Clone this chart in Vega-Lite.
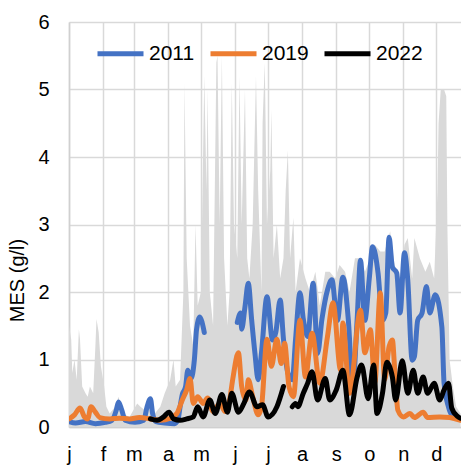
{
  "$schema": "https://vega.github.io/schema/vega-lite/v6.json",
  "width": 392,
  "height": 405,
  "autosize": {"type": "none"},
  "padding": {"left": 69, "top": 22, "right": 0, "bottom": 38},
  "config": {"view": {"stroke": null}, "font": "Liberation Sans"},
  "datasets": {
    "band": [
      {"day":1,"v":1.5},{"day":3,"v":1.3},{"day":4,"v":0.8},{"day":6,"v":1.0},{"day":8,"v":0.7},{"day":10,"v":1.45},{"day":11,"v":1.3},{"day":13,"v":0.6},{"day":16,"v":0.5},{"day":18,"v":0.45},{"day":20,"v":0.6},{"day":23,"v":0.5},{"day":25,"v":1.2},{"day":26,"v":1.6},{"day":28,"v":1.4},{"day":30,"v":0.9},{"day":33,"v":0.6},{"day":35,"v":0.3},{"day":38,"v":0.2},{"day":43,"v":0.3},{"day":46,"v":0.45},{"day":50,"v":0.2},{"day":56,"v":0.15},{"day":63,"v":0.35},{"day":66,"v":0.3},{"day":70,"v":0.25},{"day":75,"v":0.45},{"day":79,"v":0.2},{"day":84,"v":0.3},{"day":88,"v":0.5},{"day":93,"v":0.7},{"day":96,"v":1.0},{"day":98,"v":0.6},{"day":102,"v":0.7},{"day":105,"v":2.0},{"day":106,"v":5.1},{"day":108,"v":2.5},{"day":111,"v":1.5},{"day":114,"v":1.2},{"day":116,"v":3.0},{"day":118,"v":1.8},{"day":121,"v":2.0},{"day":124,"v":5.2},{"day":126,"v":3.5},{"day":127,"v":5.0},{"day":129,"v":2.0},{"day":132,"v":1.5},{"day":135,"v":5.4},{"day":136,"v":5.5},{"day":138,"v":3.0},{"day":140,"v":5.5},{"day":142,"v":2.5},{"day":145,"v":1.5},{"day":147,"v":2.0},{"day":149,"v":5.1},{"day":151,"v":3.0},{"day":154,"v":2.5},{"day":156,"v":5.2},{"day":158,"v":3.0},{"day":161,"v":5.0},{"day":163,"v":2.5},{"day":165,"v":2.2},{"day":168,"v":3.0},{"day":171,"v":5.2},{"day":173,"v":3.5},{"day":176,"v":2.0},{"day":177,"v":4.5},{"day":179,"v":5.4},{"day":181,"v":3.0},{"day":184,"v":3.8},{"day":185,"v":4.7},{"day":187,"v":2.5},{"day":190,"v":3.0},{"day":193,"v":2.2},{"day":196,"v":2.5},{"day":198,"v":3.5},{"day":200,"v":4.1},{"day":202,"v":2.5},{"day":205,"v":3.1},{"day":207,"v":2.0},{"day":211,"v":2.5},{"day":216,"v":2.2},{"day":220,"v":2.0},{"day":225,"v":2.3},{"day":229,"v":1.8},{"day":234,"v":2.3},{"day":238,"v":2.3},{"day":243,"v":2.2},{"day":247,"v":2.4},{"day":252,"v":2.3},{"day":256,"v":2.0},{"day":261,"v":2.5},{"day":266,"v":2.5},{"day":270,"v":2.3},{"day":275,"v":2.5},{"day":279,"v":2.7},{"day":284,"v":2.6},{"day":288,"v":2.6},{"day":293,"v":2.9},{"day":297,"v":2.4},{"day":302,"v":2.2},{"day":306,"v":2.7},{"day":309,"v":2.8},{"day":313,"v":2.2},{"day":315,"v":2.8},{"day":320,"v":2.5},{"day":325,"v":2.3},{"day":329,"v":2.45},{"day":333,"v":2.2},{"day":336,"v":3.5},{"day":337,"v":4.5},{"day":339,"v":5.0},{"day":342,"v":5.0},{"day":344,"v":4.9},{"day":345,"v":3.0},{"day":347,"v":1.0},{"day":350,"v":0.6},{"day":353,"v":0.3},{"day":357,"v":0.2}
    ],
    "series": [
      {"year":"2011","day":1,"v":0.08},{"year":"2011","day":7,"v":0.06},{"year":"2011","day":16,"v":0.08},{"year":"2011","day":25,"v":0.05},{"year":"2011","day":34,"v":0.07},{"year":"2011","day":40,"v":0.1},{"year":"2011","day":44,"v":0.25},{"year":"2011","day":46,"v":0.37},{"year":"2011","day":49,"v":0.25},{"year":"2011","day":52,"v":0.1},{"year":"2011","day":61,"v":0.07},{"year":"2011","day":69,"v":0.1},{"year":"2011","day":72,"v":0.3},{"year":"2011","day":75,"v":0.42},{"year":"2011","day":77,"v":0.2},{"year":"2011","day":80,"v":0.08},{"year":"2011","day":88,"v":0.06},{"year":"2011","day":97,"v":0.05},{"year":"2011","day":100,"v":0.1},{"year":"2011","day":102,"v":0.3},{"year":"2011","day":104,"v":0.48},{"year":"2011","day":107,"v":0.6},{"year":"2011","day":109,"v":0.84},{"year":"2011","day":112,"v":0.72},{"year":"2011","day":115,"v":1.0},{"year":"2011","day":117,"v":1.45},{"year":"2011","day":120,"v":1.63},{"year":"2011","day":122,"v":1.55},{"year":"2011","day":124,"v":1.4},{"year":"2011","day":139,"v":null},{"year":"2011","day":154,"v":1.55},{"year":"2011","day":157,"v":1.69},{"year":"2011","day":158,"v":1.45},{"year":"2011","day":161,"v":1.78},{"year":"2011","day":164,"v":2.13},{"year":"2011","day":167,"v":1.6},{"year":"2011","day":170,"v":1.1},{"year":"2011","day":173,"v":0.7},{"year":"2011","day":176,"v":1.1},{"year":"2011","day":181,"v":1.93},{"year":"2011","day":186,"v":1.29},{"year":"2011","day":189,"v":1.4},{"year":"2011","day":193,"v":1.88},{"year":"2011","day":196,"v":1.3},{"year":"2011","day":200,"v":0.8},{"year":"2011","day":204,"v":0.7},{"year":"2011","day":207,"v":1.3},{"year":"2011","day":211,"v":1.99},{"year":"2011","day":214,"v":1.6},{"year":"2011","day":218,"v":1.34},{"year":"2011","day":223,"v":2.13},{"year":"2011","day":227,"v":1.09},{"year":"2011","day":231,"v":1.6},{"year":"2011","day":236,"v":2.03},{"year":"2011","day":240,"v":2.18},{"year":"2011","day":245,"v":1.58},{"year":"2011","day":250,"v":2.22},{"year":"2011","day":255,"v":1.58},{"year":"2011","day":259,"v":0.6},{"year":"2011","day":263,"v":1.6},{"year":"2011","day":266,"v":2.47},{"year":"2011","day":270,"v":1.58},{"year":"2011","day":274,"v":2.2},{"year":"2011","day":277,"v":2.67},{"year":"2011","day":282,"v":2.28},{"year":"2011","day":286,"v":1.58},{"year":"2011","day":289,"v":1.69},{"year":"2011","day":292,"v":2.81},{"year":"2011","day":295,"v":2.37},{"year":"2011","day":299,"v":2.28},{"year":"2011","day":302,"v":1.69},{"year":"2011","day":306,"v":2.58},{"year":"2011","day":309,"v":2.18},{"year":"2011","day":313,"v":0.99},{"year":"2011","day":315,"v":1.04},{"year":"2011","day":318,"v":1.58},{"year":"2011","day":322,"v":1.69},{"year":"2011","day":326,"v":2.08},{"year":"2011","day":329,"v":1.69},{"year":"2011","day":334,"v":1.96},{"year":"2011","day":340,"v":1.48},{"year":"2011","day":342,"v":0.65},{"year":"2011","day":346,"v":0.3},{"year":"2011","day":349,"v":0.18},{"year":"2011","day":354,"v":0.13},{"year":"2011","day":357,"v":0.12},
      {"year":"2019","day":1,"v":0.12},{"year":"2019","day":6,"v":0.18},{"year":"2019","day":11,"v":0.28},{"year":"2019","day":15,"v":0.15},{"year":"2019","day":18,"v":0.12},{"year":"2019","day":21,"v":0.3},{"year":"2019","day":25,"v":0.22},{"year":"2019","day":29,"v":0.14},{"year":"2019","day":38,"v":0.12},{"year":"2019","day":47,"v":0.13},{"year":"2019","day":56,"v":0.12},{"year":"2019","day":65,"v":0.14},{"year":"2019","day":75,"v":0.12},{"year":"2019","day":84,"v":0.1},{"year":"2019","day":93,"v":0.13},{"year":"2019","day":99,"v":0.2},{"year":"2019","day":104,"v":0.4},{"year":"2019","day":108,"v":0.55},{"year":"2019","day":111,"v":0.72},{"year":"2019","day":114,"v":0.35},{"year":"2019","day":118,"v":0.45},{"year":"2019","day":123,"v":0.35},{"year":"2019","day":127,"v":0.43},{"year":"2019","day":132,"v":0.23},{"year":"2019","day":138,"v":0.35},{"year":"2019","day":143,"v":0.23},{"year":"2019","day":147,"v":0.4},{"year":"2019","day":150,"v":0.72},{"year":"2019","day":155,"v":1.1},{"year":"2019","day":158,"v":0.6},{"year":"2019","day":162,"v":0.4},{"year":"2019","day":164,"v":0.7},{"year":"2019","day":168,"v":0.45},{"year":"2019","day":173,"v":0.18},{"year":"2019","day":176,"v":0.3},{"year":"2019","day":181,"v":1.3},{"year":"2019","day":185,"v":0.9},{"year":"2019","day":190,"v":1.3},{"year":"2019","day":194,"v":0.94},{"year":"2019","day":197,"v":1.24},{"year":"2019","day":201,"v":0.6},{"year":"2019","day":205,"v":0.45},{"year":"2019","day":211,"v":1.58},{"year":"2019","day":216,"v":0.74},{"year":"2019","day":222,"v":1.39},{"year":"2019","day":229,"v":0.65},{"year":"2019","day":236,"v":1.34},{"year":"2019","day":241,"v":1.84},{"year":"2019","day":248,"v":0.84},{"year":"2019","day":250,"v":1.54},{"year":"2019","day":256,"v":0.5},{"year":"2019","day":266,"v":1.73},{"year":"2019","day":270,"v":1.1},{"year":"2019","day":275,"v":1.44},{"year":"2019","day":279,"v":0.65},{"year":"2019","day":284,"v":1.99},{"year":"2019","day":288,"v":0.7},{"year":"2019","day":292,"v":1.19},{"year":"2019","day":295,"v":1.29},{"year":"2019","day":297,"v":0.89},{"year":"2019","day":300,"v":0.25},{"year":"2019","day":305,"v":0.15},{"year":"2019","day":311,"v":0.2},{"year":"2019","day":315,"v":0.14},{"year":"2019","day":323,"v":0.22},{"year":"2019","day":327,"v":0.14},{"year":"2019","day":338,"v":0.15},{"year":"2019","day":347,"v":0.14},{"year":"2019","day":352,"v":0.12},{"year":"2019","day":357,"v":0.1},
      {"year":"2022","day":75,"v":0.12},{"year":"2022","day":81,"v":0.1},{"year":"2022","day":87,"v":0.15},{"year":"2022","day":92,"v":0.22},{"year":"2022","day":96,"v":0.12},{"year":"2022","day":102,"v":0.1},{"year":"2022","day":108,"v":0.12},{"year":"2022","day":114,"v":0.15},{"year":"2022","day":118,"v":0.3},{"year":"2022","day":123,"v":0.15},{"year":"2022","day":129,"v":0.4},{"year":"2022","day":134,"v":0.2},{"year":"2022","day":140,"v":0.48},{"year":"2022","day":145,"v":0.22},{"year":"2022","day":149,"v":0.5},{"year":"2022","day":155,"v":0.22},{"year":"2022","day":160,"v":0.35},{"year":"2022","day":165,"v":0.52},{"year":"2022","day":172,"v":0.3},{"year":"2022","day":177,"v":0.33},{"year":"2022","day":182,"v":0.15},{"year":"2022","day":190,"v":0.3},{"year":"2022","day":196,"v":0.6},{"year":"2022","day":200,"v":null},{"year":"2022","day":204,"v":0.3},{"year":"2022","day":207,"v":0.35},{"year":"2022","day":209,"v":0.3},{"year":"2022","day":214,"v":0.5},{"year":"2022","day":218,"v":0.65},{"year":"2022","day":222,"v":0.82},{"year":"2022","day":227,"v":0.4},{"year":"2022","day":234,"v":0.72},{"year":"2022","day":238,"v":0.4},{"year":"2022","day":244,"v":0.55},{"year":"2022","day":250,"v":0.84},{"year":"2022","day":256,"v":0.18},{"year":"2022","day":263,"v":0.74},{"year":"2022","day":267,"v":0.92},{"year":"2022","day":273,"v":0.42},{"year":"2022","day":278,"v":0.92},{"year":"2022","day":281,"v":0.2},{"year":"2022","day":286,"v":0.5},{"year":"2022","day":290,"v":0.96},{"year":"2022","day":295,"v":0.74},{"year":"2022","day":298,"v":0.4},{"year":"2022","day":304,"v":0.98},{"year":"2022","day":309,"v":0.5},{"year":"2022","day":314,"v":0.84},{"year":"2022","day":318,"v":0.5},{"year":"2022","day":323,"v":0.74},{"year":"2022","day":327,"v":0.5},{"year":"2022","day":333,"v":0.65},{"year":"2022","day":338,"v":0.4},{"year":"2022","day":342,"v":0.55},{"year":"2022","day":346,"v":0.65},{"year":"2022","day":349,"v":0.28},{"year":"2022","day":354,"v":0.16},{"year":"2022","day":357,"v":0.13}
    ]
  },
  "encoding": {
    "x": {
      "field": "day", "type": "quantitative",
      "scale": {"domain": [1, 357.4], "nice": false, "zero": false},
      "axis": {
        "values": [1,32,60,91,121,152,182,213,244,274,305,335],
        "labelExpr": "['j','f','m','a','m','j','j','a','s','o','n','d'][indexof([1,32,60,91,121,152,182,213,244,274,305,335], datum.value)]",
        "title": null, "grid": true, "gridColor": "#d9d9d9", "gridWidth": 1.5,
        "ticks": false, "labelPadding": 17, "labelFontSize": 20, "labelColor": "#000000",
        "labelFlush": false, "labelOverlap": false,
        "domainColor": "#d0d0d0", "domainWidth": 1.5
      }
    },
    "y": {
      "field": "v", "type": "quantitative",
      "scale": {"domain": [0, 6], "nice": false},
      "axis": {
        "values": [0,1,2,3,4,5,6], "title": "MES (g/l)", "titleFontSize": 20, "titleFontWeight": "normal",
        "titleColor": "#000000", "titlePadding": 10, "titleY": 258,
        "grid": true, "gridColor": "#d9d9d9", "gridWidth": 1.5,
        "ticks": false, "labelPadding": 20, "labelFontSize": 20, "labelColor": "#000000",
        "domainColor": "#d0d0d0", "domainWidth": 1.5
      }
    }
  },
  "layer": [
    {
      "data": {"name": "band"},
      "mark": {"type": "area", "color": "#d9d9d9", "clip": true}
    },
    {
      "data": {"name": "series"},
      "mark": {"type": "line", "strokeWidth": 5, "strokeCap": "round", "strokeJoin": "round", "interpolate": "monotone", "clip": true, "invalid": "break-paths-filter-domains"},
      "encoding": {
        "color": {
          "field": "year", "type": "nominal",
          "scale": {"domain": ["2011","2019","2022"], "range": ["#4472c4","#ed7d31","#000000"]},
          "legend": {
            "orient": "none", "legendX": 26, "legendY": 6, "direction": "horizontal", "title": null,
            "symbolType": "stroke", "symbolStrokeWidth": 5, "symbolSize": 2116,
            "labelFontSize": 21, "labelOffset": 3, "columnPadding": 5, "labelColor": "#000000"
          }
        }
      }
    }
  ]
}
